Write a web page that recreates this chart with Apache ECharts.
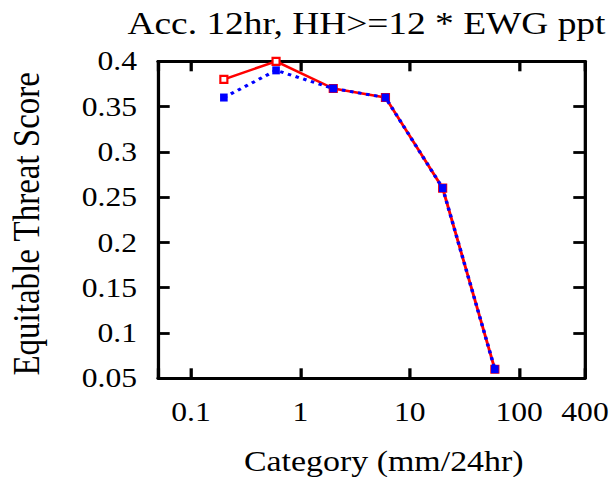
<!DOCTYPE html>
<html>
<head>
<meta charset="utf-8">
<script src="https://cdn.jsdelivr.net/npm/echarts@6/dist/echarts.min.js"></script>
<style>
  html, body { margin: 0; padding: 0; background: #fff; overflow: hidden; }
  /* the plot is laid out narrower and widened horizontally, giving the wide serif lettering */
  #chart { width: 525px; height: 477px; transform: scaleX(1.1695); transform-origin: 0 0; }
</style>
</head>
<body>
<div id="chart"></div>
<script>
// precipitation thresholds (mm/24hr)
const categories = [0.2, 0.6, 2, 6, 20, 60];
// equitable threat scores for the two runs
const redScores = [0.38, 0.40, 0.37, 0.36, 0.26, 0.06];
const blueScores = [0.36, 0.39, 0.37, 0.36, 0.26, 0.06];
// labelled x ticks
const xTickLabels = [0.1, 1, 10, 100, 400];

const FONT = '"Liberation Serif", "Times New Roman", serif';
const LINE = 2.8;

function pairs(xs, ys) { return xs.map((x, i) => [x, ys[i]]); }

function xLabel(v) {
  for (const t of xTickLabels) {
    if (Math.abs(Math.log10(v) - Math.log10(t)) < 1e-6) return String(t);
  }
  return '';
}

const frameLine = { show: true, lineStyle: { color: '#000', width: LINE } };
const innerTick = { show: true, inside: true, length: 10, lineStyle: { color: '#000', width: LINE } };

const chart = echarts.init(document.getElementById('chart'), null, { renderer: 'svg' });
chart.setOption({
  backgroundColor: '#fff',
  animation: false,
  title: {
    text: 'Acc. 12hr, HH>=12 * EWG ppt',
    left: 104, top: 2,
    textStyle: { fontFamily: FONT, fontSize: 32, fontWeight: 'normal', color: '#000' }
  },
  grid: { left: 135.1, right: 24.8, top: 61.3, bottom: 98.7, outerBoundsMode: 'none', containLabel: false },
  xAxis: [{
    type: 'log', logBase: 10, min: 0.05, max: 400,
    position: 'bottom',
    name: 'Category (mm/24hr)', nameLocation: 'middle', nameGap: 69,
    nameTextStyle: { fontFamily: FONT, fontSize: 29, color: '#000', padding: [0, 0, 0, 21] },
    axisLine: frameLine, axisTick: innerTick, splitLine: { show: false },
    axisLabel: { fontFamily: FONT, fontSize: 27, color: '#000', margin: 20, formatter: xLabel }
  }, {
    type: 'log', logBase: 10, min: 0.05, max: 400,
    position: 'top',
    axisLine: frameLine, axisTick: innerTick, splitLine: { show: false },
    axisLabel: { show: false }
  }],
  yAxis: [{
    type: 'value', min: 0.05, max: 0.4, interval: 0.05,
    position: 'left',
    name: 'Equitable Threat Score', nameLocation: 'middle', nameGap: 96,
    nameTextStyle: { fontFamily: FONT, fontSize: 33, color: '#000', padding: [0, 8, 0, 0] },
    axisLine: frameLine, axisTick: innerTick, splitLine: { show: false },
    axisLabel: { fontFamily: FONT, fontSize: 27, color: '#000', margin: 18,
                 formatter: v => String(+v.toFixed(2)) }
  }, {
    type: 'value', min: 0.05, max: 0.4, interval: 0.05,
    position: 'right',
    axisLine: frameLine, axisTick: innerTick, splitLine: { show: false },
    axisLabel: { show: false }
  }],
  series: [{
    type: 'line', name: 'red', data: pairs(categories, redScores),
    clip: false, z: 3,
    symbol: 'emptyRect', symbolSize: [6, 7],
    itemStyle: { color: '#ff0000', borderWidth: 1.8 },
    lineStyle: { color: '#ff0000', width: 2.5, type: 'solid' }
  }, {
    type: 'line', name: 'blue', data: pairs(categories, blueScores),
    clip: false, z: 4,
    symbol: 'rect', symbolSize: [6.5, 8],
    itemStyle: { color: '#0000ff' },
    lineStyle: { color: '#0000ff', width: 3, type: [3, 4] }
  }]
});
</script>
</body>
</html>
